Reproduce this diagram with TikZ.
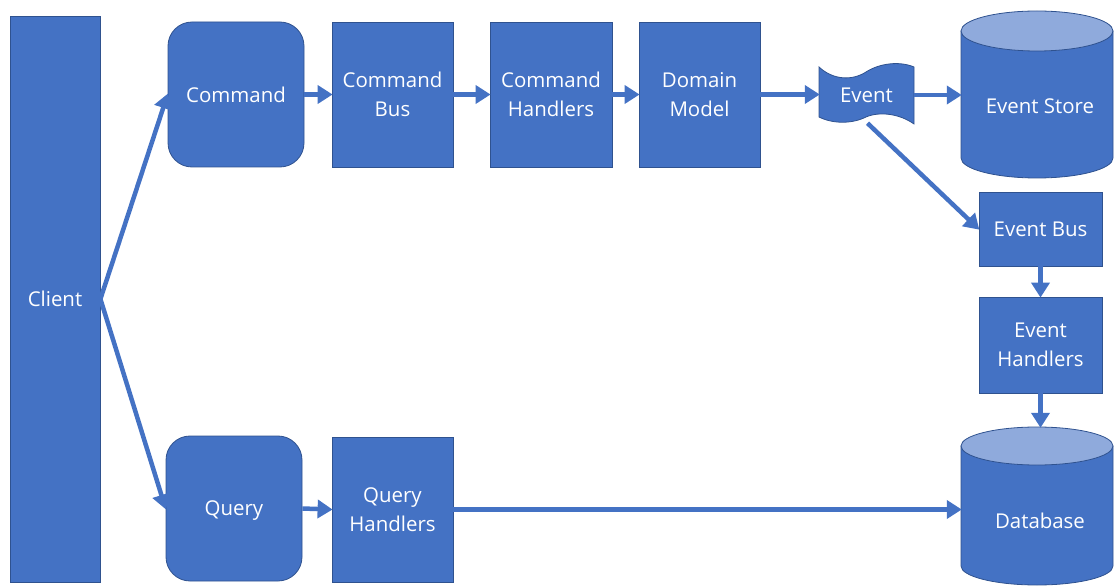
\documentclass[tikz,border=0pt]{standalone}
\usepackage{fontspec}
\setmainfont{Open Sans}
\usetikzlibrary{arrows.meta}
\definecolor{boxblue}{RGB}{68,114,196}
\definecolor{boxedge}{RGB}{47,82,143}
\definecolor{lidblue}{RGB}{143,170,220}
\tikzset{
  labelfont/.style={font=\fontsize{20.5}{29}\selectfont},
  stepbox/.style={draw=boxedge, line width=0.8bp, fill=boxblue, text=white,
    align=center, inner sep=0pt, labelfont},
  roundbox/.style={stepbox, rounded corners=24bp},
  ghost/.style={inner sep=0pt, text=white, align=center, labelfont},
  shell/.style={draw=boxedge, line width=0.8bp, fill=boxblue},
  flow/.style={draw=boxblue, line width=4.5bp,
    -{Triangle[length=15bp,width=18bp]}, shorten >=-1bp},
}
\begin{document}
\begin{tikzpicture}[x=1bp,y=-1bp]
\useasboundingbox (0,0) rectangle (1114,586);

% client column
\node[stepbox, minimum width=90bp, minimum height=566bp, text depth=0pt] (client) at (55,299) {Client};

% command side
\node[roundbox, minimum width=136bp, minimum height=145bp] (cmd) at (236,94.5) {Command};
\node[stepbox, minimum width=121bp, minimum height=145bp] (bus) at (392.5,94.5) {Command\\Bus};
\node[stepbox, minimum width=122bp, minimum height=145bp] (hnd) at (551,94.5) {Command\\Handlers};
\node[stepbox, minimum width=121bp, minimum height=145bp] (dom) at (699.5,94.5) {Domain\\Model};

% event (punched tape)
\filldraw[shell]
  (819,67) .. controls (833,80) and (852,81) .. (866,72)
           .. controls (880,63) and (900,61) .. (914,67)
  -- (914,124)
           .. controls (900,114) and (880,111) .. (866,117)
           .. controls (852,124) and (833,124) .. (819,117) -- cycle;
\node[ghost, minimum width=95bp, minimum height=52bp] (event) at (866.5,95) {Event};

% event store cylinder
\filldraw[shell]
  (961,31) -- (961,158) arc[start angle=180, end angle=0, x radius=76, y radius=20]
  -- (1113,31) -- cycle;
\filldraw[shell, fill=lidblue]
  (1037,31) ellipse[x radius=76, y radius=20];
\node[ghost, minimum width=152bp, minimum height=148bp] (store) at (1037,105) {};
\node[ghost] (storetext) at (1040,106) {Event Store};

% event bus and handlers
\node[stepbox, minimum width=123bp, minimum height=74bp] (ebus) at (1040.5,229) {Event Bus};
\node[stepbox, minimum width=123bp, minimum height=96bp] (ehnd) at (1040.5,345) {Event\\Handlers};

% database cylinder
\filldraw[shell]
  (961,446) -- (961,566) arc[start angle=180, end angle=0, x radius=76, y radius=19]
  -- (1113,446) -- cycle;
\filldraw[shell, fill=lidblue]
  (1037,446) ellipse[x radius=76, y radius=19];
\node[ghost, minimum width=152bp, minimum height=158bp] (db) at (1037,506) {};
\node[ghost] (dbtext) at (1040,521) {Database};

% query side
\node[roundbox, minimum width=136bp, minimum height=145bp, text depth=0pt] (qry) at (234,508.5) {Query};
\node[stepbox, minimum width=121bp, minimum height=145bp] (qhnd) at (392.5,509.5) {Query\\Handlers};

% connectors
\draw[flow] (client.east) -- (cmd.west);
\draw[flow] (client.east) -- (qry.west);
\draw[flow] (cmd.east) -- (bus.west);
\draw[flow] (bus.east) -- (hnd.west);
\draw[flow] (hnd.east) -- (dom.west);
\draw[flow] (dom.east) -- (dom.east -| event.west);
\draw[flow] (event.east) -- (event.east -| store.west);
\draw[flow] ([xshift=1bp,yshift=-2bp]event.south) -- (ebus.west);
\draw[flow] (ebus.south) -- (ehnd.north);
\draw[flow] (ehnd.south) -- (ehnd.south |- db.north);
\draw[flow] (qry.east) -- (qhnd.west);
\draw[flow] (qhnd.east) -- (qhnd.east -| db.west);
\end{tikzpicture}
\end{document}
